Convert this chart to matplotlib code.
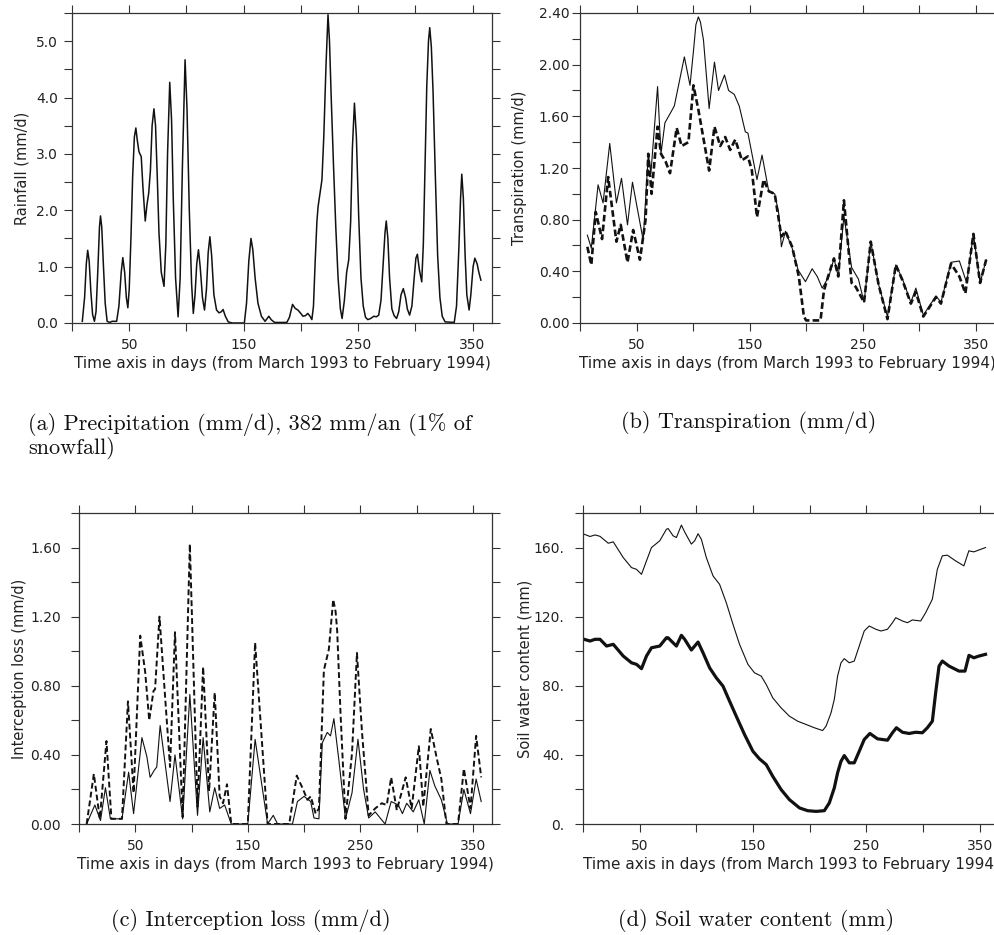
import matplotlib
matplotlib.use('Agg')
import matplotlib.pyplot as plt
from matplotlib.ticker import MultipleLocator

plt.rcParams['font.family'] = ['DejaVu Sans']
plt.rcParams['axes.edgecolor'] = '#333333'
plt.rcParams['axes.linewidth'] = 0.9

# (a) rainfall, mm/d
rain_day = [9, 11, 12.5, 13.7, 15, 16.5, 18, 19.6, 21, 22.5, 24, 24.9, 26, 27.5, 29, 30.7, 33, 35, 39,
            41, 43, 44.4, 46, 47.5, 48.8, 50, 51.5, 53, 54.5, 55.8, 57, 58.5, 60.5, 62, 64, 65.5, 67,
            68.5, 70, 71.6, 73, 74.5, 76, 78, 80.4, 82, 83.5, 85.4, 87, 88.5, 90.5, 92.7, 94.5, 96.5,
            98.8, 100.5, 102.5, 104.5, 106, 107.5, 109, 110.5, 112, 114, 115.8, 117.5, 119, 120.5, 122,
            124, 126.3, 128.5, 130.5, 132, 134, 136.5, 140, 150.6, 152.5, 154.5, 156.4, 158, 160, 162.5,
            165.5, 168.7, 170.5, 172, 174, 177, 187.7, 190, 192.7, 195, 197.4, 199.5, 201.8, 204, 206,
            208, 209.6, 211, 212.5, 214, 215, 218.4, 220, 222, 223.7, 225, 226.5, 228.5, 230.5, 232.5,
            234.5, 236, 238, 240, 241.8, 243.5, 245, 246.8, 248.5, 250.5, 252.5, 254.5, 256.5, 258.5,
            261, 263.7, 266, 268, 270, 272, 273.5, 274.6, 276, 277.5, 279.5, 281.5, 283.6, 285.5, 287.5,
            289.5, 291.5, 293, 295, 297, 299, 300.5, 301.8, 303.5, 305.6, 307, 308.5, 310, 311.5, 312.6,
            314, 315.5, 317.5, 319.5, 321.5, 323.5, 326, 334, 336, 338, 339.5, 340.6, 342, 343.5, 345,
            347, 348.5, 350.5, 352, 354, 355.5, 357.3]
rain_mm = [0.03, 0.45, 1.05, 1.29, 1.1, 0.55, 0.15, 0.03, 0.2, 0.9, 1.7, 1.9, 1.7, 1.0, 0.35, 0.03, 0.01,
           0.03, 0.03, 0.3, 0.9, 1.16, 0.9, 0.45, 0.27, 0.6, 1.5, 2.6, 3.3, 3.46, 3.25, 3.04, 2.95, 2.4,
           1.81, 2.1, 2.3, 2.7, 3.5, 3.8, 3.5, 2.6, 1.6, 0.9, 0.65, 1.4, 3.0, 4.27, 3.6, 2.2, 0.8, 0.11,
           0.8, 2.8, 4.67, 3.8, 2.0, 0.7, 0.17, 0.5, 1.05, 1.3, 1.0, 0.45, 0.23, 0.6, 1.25, 1.53, 1.2,
           0.5, 0.23, 0.18, 0.2, 0.24, 0.12, 0.02, 0.0, 0.0, 0.35, 1.1, 1.5, 1.3, 0.8, 0.35, 0.12, 0.03,
           0.08, 0.12, 0.06, 0.01, 0.01, 0.1, 0.33, 0.26, 0.23, 0.18, 0.12, 0.13, 0.17, 0.12, 0.06, 0.3,
           1.1, 1.8, 2.06, 2.54, 3.3, 4.6, 5.47, 5.0, 4.0, 2.8, 1.7, 0.8, 0.25, 0.08, 0.4, 0.9, 1.12,
           1.8, 3.1, 3.9, 3.3, 1.9, 0.8, 0.3, 0.1, 0.06, 0.08, 0.12, 0.11, 0.14, 0.4, 1.1, 1.6, 1.81,
           1.5, 0.8, 0.25, 0.13, 0.08, 0.2, 0.5, 0.61, 0.45, 0.25, 0.14, 0.3, 0.8, 1.15, 1.22, 0.95,
           0.73, 1.4, 2.8, 4.2, 5.0, 5.24, 4.9, 4.1, 2.6, 1.2, 0.45, 0.12, 0.02, 0.01, 0.3, 1.3, 2.2,
           2.64, 2.2, 1.2, 0.5, 0.23, 0.5, 1.0, 1.15, 1.05, 0.9, 0.76]

# (b) transpiration, mm/d
transp1_day = [6.5, 10, 16, 20.4, 26.3, 32.2, 36.7, 42, 46.4, 55.9, 60.4, 62.7, 68.6, 71.6, 75.1, 79.6,
               83.4, 92.3, 97.3, 100.5, 102.5, 104.7, 106.5, 109.2, 114.2, 118.9, 122.5, 127.8, 131.4,
               136.4, 140.8, 146.2, 148.5, 156.5, 161, 166.9, 172.2, 175.7, 178.1, 181.7, 187.6, 192.9,
               199.4, 205.3, 209.8, 214.2, 220.1, 224.6, 228.4, 233.4, 240.2, 246.2, 251.2, 257.1, 264,
               271.9, 279.3, 285.2, 292.6, 297, 303.6, 314.8, 319.2, 328.1, 335.5, 342, 347.9, 353.8,
               359.2]
transp1 = [0.68, 0.58, 1.07, 0.93, 1.39, 0.93, 1.12, 0.76, 1.09, 0.64, 1.31, 1.16, 1.83, 1.31, 1.55, 1.62,
           1.68, 2.06, 1.84, 2.12, 2.31, 2.37, 2.33, 2.19, 1.66, 2.02, 1.8, 1.92, 1.8, 1.77, 1.68, 1.48,
           1.47, 1.11, 1.3, 1.02, 1.0, 0.85, 0.59, 0.71, 0.58, 0.41, 0.32, 0.42, 0.36, 0.27, 0.36, 0.5,
           0.36, 0.83, 0.43, 0.34, 0.16, 0.63, 0.3, 0.05, 0.45, 0.34, 0.16, 0.27, 0.06, 0.21, 0.16, 0.47,
           0.48, 0.31, 0.69, 0.31, 0.49]
transp2_day = [6.5, 10, 13.9, 19.5, 24.9, 32.2, 36, 42, 47, 53, 58, 60.4, 63.3, 68.6, 71.6, 75.7, 79.6,
               85.5, 89.9, 95.9, 100.3, 104.7, 114.2, 118.9, 124, 128.4, 132.8, 137.3, 143.2, 148.5,
               152, 156.5, 162.4, 166.9, 172.2, 178.1, 181.7, 187.6, 193.5, 198, 200, 212.7, 215.7,
               220.1, 224.6, 228.4, 233.4, 240.2, 243.8, 251.2, 257.1, 264, 271.9, 279.3, 285.2, 292.6,
               297, 303.6, 314.8, 319.2, 328.1, 335.5, 340.8, 347.9, 353.8, 359.2]
transp2 = [0.59, 0.45, 0.86, 0.65, 1.13, 0.63, 0.76, 0.47, 0.72, 0.49, 0.8, 1.31, 1.0, 1.52, 1.31, 1.25,
           1.16, 1.51, 1.37, 1.4, 1.84, 1.65, 1.18, 1.52, 1.37, 1.44, 1.34, 1.42, 1.26, 1.29, 1.18, 0.82,
           1.11, 1.02, 1.0, 0.67, 0.71, 0.59, 0.36, 0.05, 0.02, 0.02, 0.25, 0.38, 0.5, 0.36, 0.95, 0.31,
           0.28, 0.16, 0.63, 0.3, 0.03, 0.45, 0.33, 0.15, 0.24, 0.05, 0.2, 0.15, 0.46, 0.36, 0.23, 0.69,
           0.31, 0.49]

# (c) interception loss, mm/d
icpt1_day = [6.8, 14.1, 19.1, 23.5, 27.9, 38.2, 44.1, 48.5, 55.9, 60.3, 63.2, 66.8, 69.1, 72.1, 80.9,
             85.3, 92.1, 98.5, 105.3, 110.3, 116.2, 120.6, 125, 129.4, 135.3, 150, 156.5, 167.6, 172.6,
             176.5, 189.7, 194.1, 200, 205.9, 208.8, 213.2, 216.2, 220.6, 223.5, 226.5, 230.9, 236.8,
             242.6, 247.9, 252.9, 257.4, 263.2, 272, 277.4, 283.8, 287.4, 291.2, 297, 302, 306.8,
             311.8, 316.2, 322, 327.4, 336.8, 342, 347.9, 352.9, 357.4]
icpt1 = [0.0, 0.11, 0.02, 0.21, 0.03, 0.03, 0.3, 0.06, 0.5, 0.39, 0.27, 0.31, 0.33, 0.57, 0.13, 0.4,
         0.03, 0.75, 0.05, 0.5, 0.07, 0.21, 0.09, 0.11, 0.0, 0.0, 0.49, 0.0, 0.05, 0.0, 0.0, 0.13, 0.16,
         0.13, 0.035, 0.03, 0.47, 0.53, 0.51, 0.61, 0.37, 0.03, 0.18, 0.49, 0.2, 0.035, 0.07, 0.0, 0.13,
         0.11, 0.06, 0.12, 0.07, 0.14, 0.0, 0.31, 0.22, 0.14, 0.0, 0.0, 0.2, 0.06, 0.26, 0.13]
icpt2_day = [6.8, 13.2, 18.5, 24.4, 28.8, 38.2, 43.5, 48.5, 54.4, 58.8, 62.4, 66.2, 67.6, 71.5, 80.9,
             85.3, 92.1, 98.5, 105.3, 110.3, 115.6, 120.6, 125, 128, 131.5, 135.3, 150, 156.5, 167.6,
             186.8, 193.5, 198.5, 203, 205.9, 210.3, 213.2, 217.6, 222, 225.9, 228, 229.4, 232.4,
             236.8, 242.6, 247, 251.5, 257.4, 263.2, 269, 273.5, 277.4, 282.4, 290.3, 295.6, 302,
             305.9, 312.6, 317.6, 322, 326.5, 336.8, 342, 347.9, 352.9, 357.4]
icpt2 = [0.0, 0.29, 0.03, 0.48, 0.03, 0.03, 0.71, 0.18, 1.09, 0.88, 0.6, 0.77, 0.78, 1.2, 0.33, 1.11,
         0.04, 1.62, 0.1, 0.91, 0.19, 0.76, 0.16, 0.12, 0.23, 0.0, 0.0, 1.05, 0.0, 0.0, 0.28, 0.21, 0.14,
         0.16, 0.06, 0.09, 0.89, 1.01, 1.3, 1.23, 1.12, 0.64, 0.03, 0.41, 0.99, 0.53, 0.05, 0.09, 0.12,
         0.11, 0.27, 0.08, 0.27, 0.09, 0.45, 0.1, 0.55, 0.39, 0.26, 0.0, 0.0, 0.32, 0.09, 0.51, 0.27]

# (d) soil water content, mm
soil1_day = [1, 6.2, 10.6, 15, 22.3, 26.7, 35.5, 42.8, 47.2, 51.6, 56, 60.4, 67.7, 73.6, 75.1, 79.5,
             82.4, 86.8, 89.7, 95.6, 98.5, 101.5, 104.4, 108.8, 114.7, 120.5, 126.4, 132.3, 138.1,
             145.5, 151.3, 157.2, 161.6, 167.4, 174.8, 182.1, 189.4, 196.8, 204.1, 211.4, 214.4, 218.8,
             221.7, 224.6, 227.6, 230.5, 234.9, 239.3, 243.7, 248.1, 252.5, 258.4, 262.8, 268.6, 273,
             275.9, 281.8, 286.2, 290.6, 297.9, 302.3, 308.2, 312.6, 317, 321.4, 328.7, 336, 340.4,
             344.8, 349.3, 355.1]
soil1 = [167.7, 166.4, 167.3, 166.5, 162.5, 163.3, 154.2, 148.4, 147.4, 144.5, 152.3, 160, 163.9, 170.6,
         171, 166.8, 165.8, 173, 169, 162, 163.9, 168, 164.8, 154.2, 143.6, 138.7, 128.1, 115.6, 104,
         92.4, 87.5, 85.6, 80.8, 73, 67.2, 62.4, 59.5, 57.6, 55.7, 54.1, 56.6, 64.3, 72.1, 85.6, 93.3,
         95.7, 93.3, 94.3, 103, 111.7, 114.6, 112.7, 111.7, 112.7, 116.5, 119.4, 117.5, 116.5, 118.1,
         117.5, 122.3, 130.1, 147.4, 155.2, 155.6, 152.3, 149.4, 158.1, 157.5, 158.6, 160]
soil2_day = [1, 6.2, 10.6, 15, 20.8, 26.7, 35.5, 42.8, 47.2, 51.6, 56, 60.4, 67.7, 73.6, 75, 82.4, 86.8,
             89.7, 95.6, 101.5, 105.9, 111.7, 117.6, 123.5, 129.3, 135.2, 142.5, 149.9, 155.7, 161.6,
             167.4, 174.8, 182.1, 191, 198.2, 205.6, 212.9, 217.3, 221.7, 224.6, 227.6, 230.5, 234.9,
             239.3, 243.7, 248.1, 253.1, 259.8, 268.6, 273, 276.5, 281.8, 287.7, 293.5, 299.4, 303.8,
             308.2, 311.1, 314.1, 317, 322.9, 331.7, 337, 340.5, 344.8, 349.3, 355.1]
soil2 = [106.9, 105.9, 106.9, 106.9, 103, 104, 97.2, 93.3, 92.4, 89.9, 97.2, 102, 103, 107.8, 107.8, 103,
         109.2, 106.9, 100.7, 105.3, 99.1, 90.4, 84.6, 79.8, 71.1, 62.4, 51.8, 42.1, 37.7, 34.4, 27.6,
         19.9, 14.1, 9.3, 7.7, 7.3, 7.7, 12.2, 20.9, 29.6, 36.3, 39.6, 35.4, 35.4, 42.1, 48.9, 52.4,
         49.3, 48.5, 52.8, 55.7, 53.1, 52.4, 53.1, 52.8, 55.7, 59.5, 75.9, 91.4, 94.3, 91.4, 88.5, 88.5,
         97.6, 96.2, 97.2, 98.2]

xlabel = 'Time axis in days (from March 1993 to February 1994)'
line_col = '#111111'

fig = plt.figure(figsize=(9.95, 9.35), dpi=100)

W, H = 995.0, 935.0


def make_axes(left, top, right, bottom):
    return fig.add_axes([left / W, 1 - bottom / H, (right - left) / W, (bottom - top) / H])


def style_axes(ax, ylim, major, minor, fmt, ypad, ylab, ylab_x, xlab_y):
    ax.set_xlim(0, 367)
    ax.set_ylim(*ylim)
    ax.set_xticks([50, 150, 250, 350])
    ax.xaxis.set_minor_locator(MultipleLocator(50))
    ax.yaxis.set_major_locator(MultipleLocator(major))
    ax.yaxis.set_minor_locator(MultipleLocator(minor))
    ax.yaxis.set_major_formatter(fmt)
    ax.tick_params(which='both', direction='out', length=6, width=0.8,
                   top=True, right=True, colors='#333333', labelcolor='#222222',
                   labelsize=10)
    ax.tick_params(axis='x', which='both', pad=5)
    ax.tick_params(axis='y', which='both', pad=ypad)
    ax.set_ylabel(ylab, fontsize=10.5, color='#222222', va='center')
    ax.yaxis.set_label_coords(ylab_x, 0.5)
    ax.set_xlabel(xlabel, fontsize=11, color='#222222', va='center')
    ax.xaxis.set_label_coords(0.5, xlab_y)


# (a) precipitation
ax = make_axes(72, 13, 492, 323)
ax.plot(rain_day, rain_mm, color=line_col, lw=1.1)
style_axes(ax, (0, 5.5), 1.0, 0.5, lambda v, p: f'{v:.1f}', 4.0,
           'Rainfall (mm/d)', -0.12, -0.13)

# (b) transpiration
ax = make_axes(580, 13, 995, 323)
ax.plot(transp1_day, transp1, color=line_col, lw=0.8)
ax.plot(transp2_day, transp2, color=line_col, lw=1.9, dashes=(2.5, 1.2))
style_axes(ax, (0, 2.4), 0.4, 0.2, lambda v, p: f'{v:.2f}', 1.5,
           'Transpiration (mm/d)', -0.145, -0.13)

# (c) interception loss
ax = make_axes(79, 513, 492, 824)
ax.plot(icpt1_day, icpt1, color=line_col, lw=0.8)
ax.plot(icpt2_day, icpt2, color=line_col, lw=1.4, dashes=(3, 1.6))
style_axes(ax, (0, 1.8), 0.4, 0.2, lambda v, p: f'{v:.2f}', 7.0,
           'Interception loss (mm/d)', -0.143, -0.13)

# (d) soil water content
ax = make_axes(583, 513, 999, 824)
ax.plot(soil1_day, soil1, color=line_col, lw=0.8)
ax.plot(soil2_day, soil2, color=line_col, lw=2.3)
style_axes(ax, (0, 180), 40, 20, lambda v, p: f'{v:.0f}.', 7.5,
           'Soil water content (mm)', -0.14, -0.13)

# sub-figure captions
cap = dict(family=['cmr10', 'DejaVu Serif'], fontsize=16, color='#111111')
fig.text(28 / W, 1 - 436 / H, '(a) Precipitation (mm/d), 382 mm/an (1% of\nsnowfall)',
         ha='left', va='center', linespacing=1.05, **cap)
fig.text(749 / W, 1 - 422 / H, '(b) Transpiration (mm/d)', ha='center', va='center', **cap)
fig.text(251 / W, 1 - 920 / H, '(c) Interception loss (mm/d)', ha='center', va='center', **cap)
fig.text(756 / W, 1 - 920 / H, '(d) Soil water content (mm)', ha='center', va='center', **cap)

fig.savefig('out.png', dpi=100, facecolor='white')
